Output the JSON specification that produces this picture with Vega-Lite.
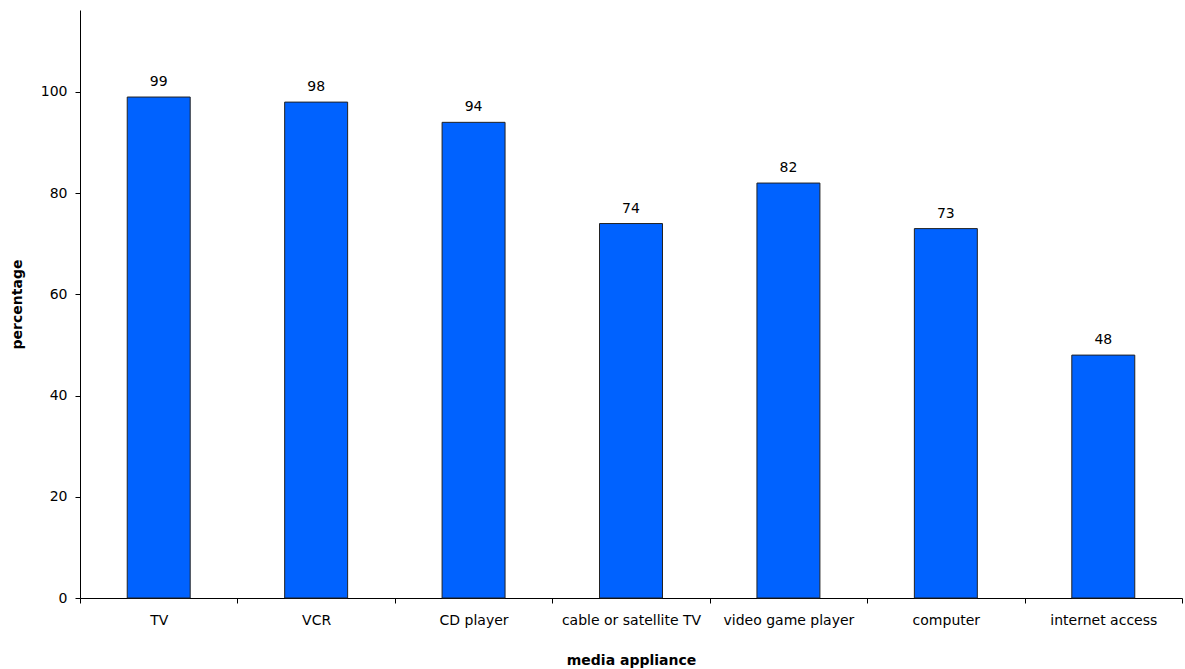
{
  "$schema": "https://vega.github.io/schema/vega-lite/v6.json",
  "width": 1102,
  "height": 588,
  "autosize": {"type": "none"},
  "padding": {"left": 80, "top": 10, "right": 3, "bottom": 71},
  "background": "white",
  "config": {
    "view": {"stroke": null},
    "font": "DejaVu Sans",
    "axis": {"labelFont": "DejaVu Sans", "titleFont": "DejaVu Sans", "domainColor": "black", "tickColor": "black", "labelColor": "black", "titleColor": "black"}
  },
  "data": {
    "values": [
      {"appliance": "TV", "percentage": 99},
      {"appliance": "VCR", "percentage": 98},
      {"appliance": "CD player", "percentage": 94},
      {"appliance": "cable or satellite TV", "percentage": 74},
      {"appliance": "video game player", "percentage": 82},
      {"appliance": "computer", "percentage": 73},
      {"appliance": "internet access", "percentage": 48}
    ]
  },
  "encoding": {
    "x": {
      "field": "appliance", "type": "nominal", "sort": null,
      "scale": {"paddingInner": 0, "paddingOuter": 0},
      "axis": {
        "title": "media appliance", "labelAngle": 0, "tickBand": "extent",
        "tickSize": 5, "labelPadding": 10, "labelFontSize": 14,
        "titleFontSize": 14, "titleFontWeight": "bold", "titlePadding": 26,
        "domainWidth": 1, "tickWidth": 1
      }
    },
    "y": {
      "field": "percentage", "type": "quantitative",
      "scale": {"domain": [0, 116.2], "nice": false},
      "axis": {
        "title": "percentage", "values": [0, 20, 40, 60, 80, 100],
        "grid": false, "tickSize": 5, "labelPadding": 8, "labelFontSize": 14,
        "titleFontSize": 14, "titleFontWeight": "bold", "titlePadding": 16,
        "domainWidth": 1, "tickWidth": 1
      }
    }
  },
  "layer": [
    {"mark": {"type": "bar", "color": "#0062FF", "stroke": "#222222", "strokeWidth": 1, "width": {"band": 0.4}}},
    {"mark": {"type": "text", "dy": -15, "fontSize": 14, "color": "black", "font": "DejaVu Sans"},
     "encoding": {"text": {"field": "percentage", "type": "quantitative"}}}
  ]
}
